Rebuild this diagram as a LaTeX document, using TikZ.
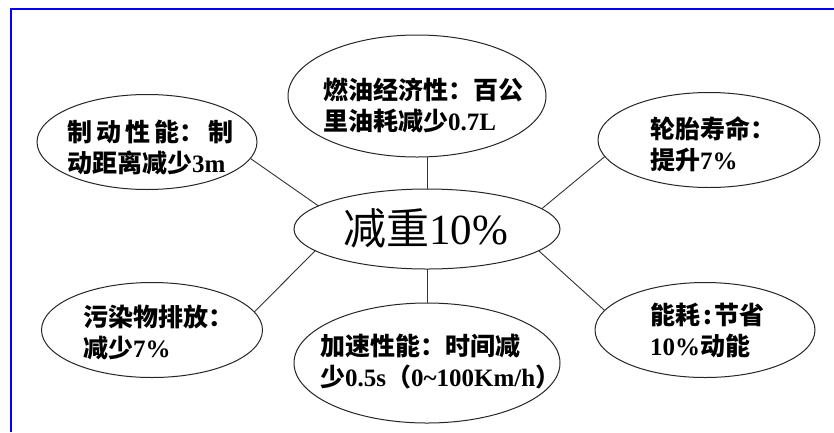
\documentclass[tikz,border=0pt]{standalone}
\usepackage{fontspec}
\setmainfont{Liberation Serif}
\newfontfamily\cjk{Noto Sans CJK SC}
\usetikzlibrary{shapes.geometric}
\newcommand{\zh}[1]{{\cjk #1}}
\begin{document}
\begin{tikzpicture}[x=1pt,y=-1pt,
  bubble/.style={ellipse, draw=black!85, line width=1pt, inner sep=0pt, outer sep=0pt},
  txt/.style={anchor=west, align=left, inner sep=0pt, text=black, font=\fontsize{25}{31}\selectfont\bfseries},
  link/.style={draw=black!80, line width=0.9pt}]
\useasboundingbox (0,0) rectangle (834,432);
\fill[white] (0,0) rectangle (834,432);
\draw[blue, line width=2pt] (10.5,432) -- (10.5,8.5) -- (834,8.5);
% ellipses
\node[bubble, minimum width=266pt, minimum height=80pt] (c) at (427,229) {};
\node[bubble, minimum width=258pt, minimum height=122pt] (top) at (417,96) {};
\node[bubble, minimum width=220pt, minimum height=95pt] (lt) at (147,142) {};
\node[bubble, minimum width=222pt, minimum height=95pt] (rt) at (709,140) {};
\node[bubble, minimum width=221pt, minimum height=95pt] (lb) at (152,330) {};
\node[bubble, minimum width=266pt, minimum height=120pt] (bot) at (427,363) {};
\node[bubble, minimum width=220pt, minimum height=95pt] (rb) at (705,330) {};
% texts
\node[anchor=west, inner sep=0pt, font=\fontsize{43}{43}\selectfont] (ct) at (343,228) {\zh{减重}10\%};
\node[txt] (ttop) at (323,105) {\zh{燃油经济性：百公}\\\zh{里油耗减少}0.7L};
\node[txt] (tlt) at (67,147) {\zh{制\hspace{4pt}动\hspace{4pt}性\hspace{4pt}能：\hspace{4pt}制}\\\zh{动距离减少}3m};
\node[txt] (trt) at (650,144) {\zh{轮胎寿命：}\\\zh{提升}7\%};
\node[txt] (tlb) at (83,332) {\zh{污染物排放：}\\\zh{减少}7\%};
\node[txt] (tbot) at (320,362) {\zh{加速性能：时间减}\\\zh{少}0.5s\zh{（}0\textasciitilde100Km/h\zh{）}};
\node[txt] (trb) at (650,330) {\zh{能耗\hspace{3pt}:\hspace{3pt}节省}\\10\%\zh{动能}};
% connectors
\draw[link] (c.168.6) -- (lt.-9.5);
\draw[link] (c.10.2) -- (rt.189);
\draw[link] (c.191.7) -- (lb.10.3);
\draw[link] (c.-11.4) -- (rb.169);
\draw[link] (c.north) -- (top.south -| c.north);
\draw[link] (c.south) -- (bot.north);
\end{tikzpicture}
\end{document}
